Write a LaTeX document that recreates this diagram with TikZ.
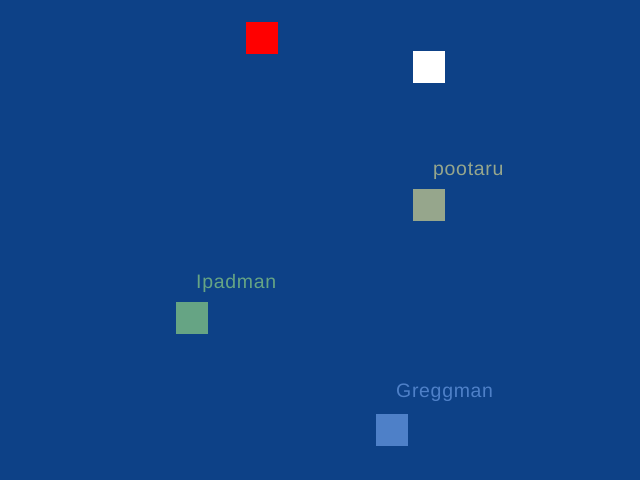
\documentclass[tikz,border=0pt]{standalone}
\usepackage{fontspec}
\setmainfont{Liberation Sans}
\definecolor{bg}{RGB}{13,65,135}
\definecolor{cpoot}{RGB}{150,166,140}
\definecolor{cipad}{RGB}{102,164,132}
\definecolor{cgreg}{RGB}{78,128,200}
\tikzset{
  sq/.style={minimum size=32pt, inner sep=0pt, outer sep=0pt, draw=none},
  lbl/.style={anchor=base west, inner sep=0pt, font=\fontsize{19.5}{22}\selectfont\addfontfeatures{LetterSpace=3.5}}
}
\begin{document}
\begin{tikzpicture}[x=1pt,y=-1pt]
\fill[bg] (0,0) rectangle (640,480);
\useasboundingbox (0,0) rectangle (640,480);
\node[sq, fill=red] (red) at (261.5,37.5) {};
\node[sq, fill=white] (white) at (429,66.5) {};
\node[sq, fill=cpoot] (poot) at (429,205) {};
\node[lbl, text=cpoot] (pootl) at (433,175) {pootaru};
\node[sq, fill=cipad] (ipad) at (191.5,318) {};
\node[lbl, text=cipad] (ipadl) at (196,288) {Ipadman};
\node[sq, fill=cgreg] (greg) at (392,430) {};
\node[lbl, text=cgreg] (gregl) at (396,397) {Greggman};
\end{tikzpicture}
\end{document}
